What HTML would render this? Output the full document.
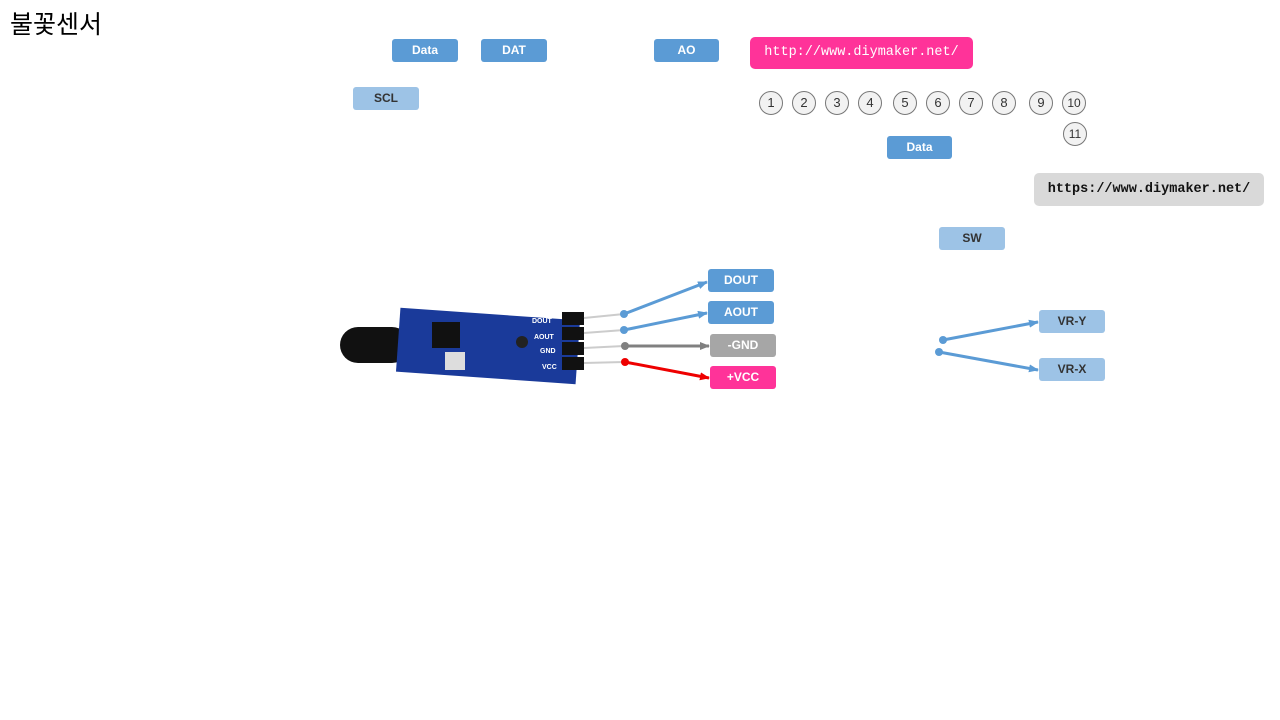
<!DOCTYPE html>
<html><head><meta charset="utf-8"><style>
body{margin:0;width:1280px;height:720px;background:#fff;position:relative;overflow:hidden;font-family:"Liberation Sans","Noto Sans CJK KR",sans-serif}
.b{position:absolute;color:#fff;font-size:12px;font-weight:bold;text-align:center;border-radius:3px;line-height:23px;height:23px}
.d{background:#5b9bd5}.l{background:#9dc3e6;color:#333}
.c{position:absolute;width:22px;height:22px;border:1px solid #777;border-radius:50%;background:#f2f2f2;font-size:13px;text-align:center;line-height:22px;color:#333}
</style></head><body>
<div style="position:absolute;left:10px;top:5px;font-size:25px;color:#000">불꽃센서</div>
<div class="b d" style="left:392px;top:39px;width:66px">Data</div>
<div class="b d" style="left:481px;top:39px;width:66px">DAT</div>
<div class="b d" style="left:654px;top:39px;width:65px">AO</div>
<div class="b l" style="left:353px;top:87px;width:66px">SCL</div>
<div class="b" style="left:750px;top:37px;width:223px;height:32px;line-height:32px;background:#ff3399;border-radius:5px;font-family:'Liberation Mono',monospace;font-weight:normal;font-size:13.5px">http://www.diymaker.net/</div>
<div class="c" style="left:759px;top:91px">1</div>
<div class="c" style="left:792px;top:91px">2</div>
<div class="c" style="left:825px;top:91px">3</div>
<div class="c" style="left:858px;top:91px">4</div>
<div class="c" style="left:893px;top:91px">5</div>
<div class="c" style="left:926px;top:91px">6</div>
<div class="c" style="left:959px;top:91px">7</div>
<div class="c" style="left:992px;top:91px">8</div>
<div class="c" style="left:1029px;top:91px">9</div>
<div class="c" style="left:1062px;top:91px;font-size:12px">10</div>
<div class="c" style="left:1063px;top:122px;font-size:12px">11</div>
<div class="b d" style="left:887px;top:136px;width:65px">Data</div>
<div class="b" style="left:1034px;top:173px;width:230px;height:33px;line-height:33px;background:#d9d9d9;color:#111;border-radius:5px;font-family:'Liberation Mono',monospace;font-size:13.5px">https://www.diymaker.net/</div>
<div class="b l" style="left:939px;top:227px;width:66px">SW</div>
<div class="b d" style="left:708px;top:269px;width:66px">DOUT</div>
<div class="b d" style="left:708px;top:301px;width:66px">AOUT</div>
<div class="b" style="left:710px;top:334px;width:66px;background:#a6a6a6">-GND</div>
<div class="b" style="left:710px;top:366px;width:66px;background:#ff3399">+VCC</div>
<div class="b l" style="left:1039px;top:310px;width:66px">VR-Y</div>
<div class="b l" style="left:1039px;top:358px;width:66px">VR-X</div>
<svg width="1280" height="720" style="position:absolute;left:0;top:0">
<defs>
<marker id="ab" markerUnits="userSpaceOnUse" markerWidth="10" markerHeight="8" refX="9" refY="4" orient="auto"><path d="M0,0L10,4L0,8z" fill="#5b9bd5"/></marker>
<marker id="ag" markerUnits="userSpaceOnUse" markerWidth="10" markerHeight="8" refX="9" refY="4" orient="auto"><path d="M0,0L10,4L0,8z" fill="#808080"/></marker>
<marker id="ar" markerUnits="userSpaceOnUse" markerWidth="10" markerHeight="8" refX="9" refY="4" orient="auto"><path d="M0,0L10,4L0,8z" fill="#e00"/></marker>
</defs>
<rect x="340" y="327" width="70" height="36" rx="18" fill="#111"/>
<rect x="398" y="314" width="180" height="64" fill="#1a3a9a" transform="rotate(4 488 346)"/>
<rect x="432" y="322" width="28" height="26" fill="#111"/>
<circle cx="522" cy="342" r="6" fill="#222"/>
<rect x="445" y="352" width="20" height="18" fill="#ddd"/>
<g fill="#111"><rect x="562" y="312" width="22" height="13"/><rect x="562" y="327" width="22" height="13"/><rect x="562" y="342" width="22" height="13"/><rect x="562" y="357" width="22" height="13"/></g>
<g stroke="#ccc" stroke-width="2"><line x1="584" y1="318" x2="624" y2="314"/><line x1="584" y1="333" x2="624" y2="330"/><line x1="584" y1="348" x2="624" y2="346"/><line x1="584" y1="363" x2="624" y2="362"/></g>
<g font-size="7" fill="#fff" font-weight="bold"><text x="532" y="323">DOUT</text><text x="534" y="339">AOUT</text><text x="540" y="353">GND</text><text x="542" y="369">VCC</text></g>
<g stroke-width="3">
<line x1="624" y1="314" x2="707" y2="282" stroke="#5b9bd5" marker-end="url(#ab)"/>
<line x1="624" y1="330" x2="707" y2="313" stroke="#5b9bd5" marker-end="url(#ab)"/>
<line x1="625" y1="346" x2="709" y2="346" stroke="#808080" marker-end="url(#ag)"/>
<line x1="625" y1="362" x2="709" y2="378" stroke="#e00" marker-end="url(#ar)"/>
<line x1="943" y1="340" x2="1038" y2="322" stroke="#5b9bd5" marker-end="url(#ab)"/>
<line x1="939" y1="352" x2="1038" y2="370" stroke="#5b9bd5" marker-end="url(#ab)"/>
</g>
<circle cx="624" cy="314" r="4" fill="#5b9bd5"/><circle cx="624" cy="330" r="4" fill="#5b9bd5"/>
<circle cx="625" cy="346" r="4" fill="#808080"/><circle cx="625" cy="362" r="4" fill="#e00"/>
<circle cx="943" cy="340" r="4" fill="#5b9bd5"/><circle cx="939" cy="352" r="4" fill="#5b9bd5"/>
</svg>
</body></html>
